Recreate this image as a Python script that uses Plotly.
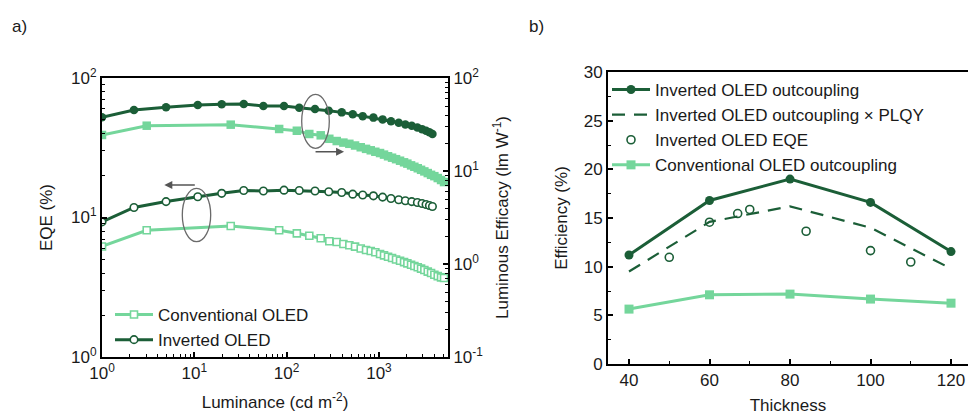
import plotly.graph_objects as go

DARK = "#1b5e37"
LIGHT = "#74d69b"
GREY = "#6a6a6a"
FONT = "Liberation Sans, Arial, sans-serif"

# ---------------- Panel a data ----------------
conv_lum = [1, 3.05, 24.8, 83, 129, 176, 234, 290, 349, 412, 478, 551, 635, 725, 815,
            914, 1028, 1135, 1255, 1387, 1532, 1693, 1871, 2032, 2228, 2419, 2633,
            2859, 3104, 3380, 3668, 3983, 4335, 4707, 5070]
conv_eqe = [6.2, 8.1, 8.7, 8.1, 7.7, 7.4, 7.1, 6.75, 6.67, 6.46, 6.32, 6.18, 6.0, 5.85,
            5.75, 5.63, 5.47, 5.35, 5.23, 5.12, 5.0, 4.9, 4.79, 4.69, 4.59, 4.49, 4.4,
            4.3, 4.2, 4.09, 4.0, 3.89, 3.8, 3.72, 3.68]
conv_le = [24.4, 30.7, 31.5, 28.3, 27.1, 25.0, 24.2, 22.2, 21.0, 20.2, 19.6, 18.8, 18.0,
           17.3, 16.7, 16.1, 15.6, 15.0, 14.4, 13.9, 13.4, 12.9, 12.4, 12.0, 11.5, 11.1,
           10.7, 10.3, 9.9, 9.5, 9.1, 8.8, 8.4, 8.0, 7.6]

inv_lum = [1, 2.22, 4.94, 10.9, 19.8, 34.3, 56, 93.7, 137, 203, 286, 395, 520, 667, 871,
           1096, 1350, 1637, 1932, 2265, 2608, 2931, 3238, 3520, 3796]
inv_eqe = [9.3, 11.8, 13.0, 14.1, 14.9, 15.6, 15.5, 15.7, 15.6, 15.5, 15.3, 15.1, 14.7,
           14.5, 14.3, 14.0, 13.7, 13.4, 13.2, 13.0, 12.8, 12.6, 12.4, 12.2, 12.0]
inv_le = [37.8, 45.3, 48.4, 51.3, 52.1, 52.5, 50.0, 50.0, 48.0, 46.5, 44.4, 42.7, 40.8,
          38.9, 37.5, 35.9, 34.3, 33.0, 31.7, 30.6, 29.4, 28.2, 27.1, 26.1, 25.0]

lum_ticks = [1, 10, 100, 1000]
lum_ticktext = ["10<sup>0</sup>", "10<sup>1</sup>", "10<sup>2</sup>", "10<sup>3</sup>"]
eqe_ticks = [1, 10, 100]
eqe_ticktext = ["10<sup>0</sup>", "10<sup>1</sup>", "10<sup>2</sup>"]
le_ticks = [0.1, 1, 10, 100]
le_ticktext = ["10<sup>-1</sup>", "10<sup>0</sup>", "10<sup>1</sup>", "10<sup>2</sup>"]

# ---------------- Panel b data ----------------
thickness = [40, 60, 80, 100, 120]
inv_outcoupling = [11.2, 16.8, 19.0, 16.6, 11.55]
inv_out_plqy = [9.5, 14.6, 16.2, 14.0, 9.8]
eqe_thickness = [50, 60, 67, 70, 84, 100, 110]
inv_eqe_b = [10.96, 14.57, 15.46, 15.88, 13.64, 11.65, 10.48]
conv_outcoupling = [5.64, 7.11, 7.18, 6.67, 6.25]

fig = go.Figure()

# Panel a traces
fig.add_trace(go.Scatter(x=conv_lum, y=conv_le, mode="lines+markers", xaxis="x", yaxis="y2",
                         line=dict(color=LIGHT, width=3),
                         marker=dict(symbol="square", size=8.5, color=LIGHT),
                         showlegend=False))
fig.add_trace(go.Scatter(x=inv_lum, y=inv_le, mode="lines+markers", xaxis="x", yaxis="y2",
                         line=dict(color=DARK, width=3),
                         marker=dict(symbol="circle", size=8.5, color=DARK),
                         showlegend=False))
fig.add_trace(go.Scatter(x=conv_lum, y=conv_eqe, mode="lines+markers", xaxis="x", yaxis="y",
                         name="Conventional OLED", legend="legend",
                         line=dict(color=LIGHT, width=3),
                         marker=dict(symbol="square", size=7, color="white",
                                     line=dict(color=LIGHT, width=1.6))))
fig.add_trace(go.Scatter(x=inv_lum, y=inv_eqe, mode="lines+markers", xaxis="x", yaxis="y",
                         name="Inverted OLED", legend="legend",
                         line=dict(color=DARK, width=3),
                         marker=dict(symbol="circle", size=7.5, color="white",
                                     line=dict(color=DARK, width=1.6))))

# Panel b traces
fig.add_trace(go.Scatter(x=thickness, y=inv_outcoupling, mode="lines+markers", xaxis="x2", yaxis="y3",
                         name="Inverted OLED outcoupling", legend="legend2",
                         line=dict(color=DARK, width=3),
                         marker=dict(symbol="circle", size=9, color=DARK)))
fig.add_trace(go.Scatter(x=thickness, y=inv_out_plqy, mode="lines", xaxis="x2", yaxis="y3",
                         name="Inverted OLED outcoupling \u00d7 PLQY", legend="legend2",
                         line=dict(color=DARK, width=2.2, dash="13px,9px")))
fig.add_trace(go.Scatter(x=eqe_thickness, y=inv_eqe_b, mode="markers", xaxis="x2", yaxis="y3",
                         name="Inverted OLED EQE", legend="legend2",
                         marker=dict(symbol="circle-open", size=8, color=DARK,
                                     line=dict(color=DARK, width=1.6))))
fig.add_trace(go.Scatter(x=thickness, y=conv_outcoupling, mode="lines+markers", xaxis="x2", yaxis="y3",
                         name="Conventional OLED outcoupling", legend="legend2",
                         line=dict(color=LIGHT, width=3),
                         marker=dict(symbol="square", size=9, color=LIGHT)))

W, H = 968, 415
def px(x):
    return x / W
def py(y):
    return (H - y) / H

axis_common = dict(showline=True, linecolor="black", linewidth=2, ticks="inside",
                   tickcolor="black", tickwidth=1.5, ticklen=5, showgrid=False, zeroline=False,
                   tickfont=dict(size=17, color="#1a1a1a", family=FONT),
                   automargin=False)

minor_log = dict(ticks="inside", ticklen=3, tickcolor="black", tickwidth=1, dtick="D1", showgrid=False)

fig.update_layout(
    width=W, height=H,
    margin=dict(l=0, r=0, t=0, b=0),
    paper_bgcolor="white", plot_bgcolor="white",
    font=dict(family=FONT, size=17, color="#1a1a1a"),
    xaxis=dict(axis_common, type="log", domain=[px(102), px(448)], range=[0, 3.748],
               anchor="y", mirror=True, tickvals=lum_ticks, ticktext=lum_ticktext,
               minor=minor_log,
               title=dict(text="Luminance (cd m<sup>-2</sup>)", font=dict(size=17), standoff=14)),
    yaxis=dict(axis_common, type="log", domain=[py(357), py(78)], range=[0, 2],
               anchor="x", tickvals=eqe_ticks, ticktext=eqe_ticktext, minor=minor_log,
               title=dict(text="EQE (%)", font=dict(size=17), standoff=14)),
    yaxis2=dict(axis_common, type="log", range=[-1, 2], overlaying="y", side="right",
                anchor="x", tickvals=le_ticks, ticktext=le_ticktext, minor=minor_log,
                title=dict(text="Luminous Efficacy (lm W<sup>-1</sup>)", font=dict(size=17), standoff=14)),
    xaxis2=dict(axis_common, domain=[px(608), 1.0], range=[34.78, 124.22], anchor="y3",
                mirror=True, tickvals=[40, 60, 80, 100, 120],
                minor=dict(ticks="inside", ticklen=3, tickcolor="black", tickwidth=1, dtick=10),
                title=dict(text="Thickness", font=dict(size=17), standoff=10)),
    yaxis3=dict(axis_common, domain=[py(364), py(72)], range=[0, 30], anchor="x2",
                tickvals=[0, 5, 10, 15, 20, 25, 30],
                minor=dict(ticks="inside", ticklen=3, tickcolor="black", tickwidth=1, dtick=2.5),
                title=dict(text="Efficiency (%)", font=dict(size=17), standoff=12)),
    legend=dict(x=px(110), y=py(297), xanchor="left", yanchor="top", bgcolor="rgba(0,0,0,0)",
                font=dict(size=17), tracegroupgap=0, itemwidth=38),
    legend2=dict(x=px(607), y=py(72), xanchor="left", yanchor="top", bgcolor="rgba(0,0,0,0)",
                 font=dict(size=17), tracegroupgap=0, itemwidth=38),
    shapes=[
        dict(type="circle", xref="paper", yref="paper", x0=px(301.7), x1=px(329.3),
             y0=py(148.3), y1=py(94.3), line=dict(color=GREY, width=1.3)),
        dict(type="circle", xref="paper", yref="paper", x0=px(182.3), x1=px(210.7),
             y0=py(241.7), y1=py(188.3), line=dict(color=GREY, width=1.3)),
    ],
    annotations=[
        dict(x=2.622, y=(357 - 151.7) / 139.5, xref="x", yref="y", ax=-30, ay=0,
             showarrow=True, arrowhead=2, arrowsize=1, arrowwidth=1.6, arrowcolor="#555", text=""),
        dict(x=0.675, y=(357 - 185) / 139.5, xref="x", yref="y", ax=32, ay=0,
             showarrow=True, arrowhead=2, arrowsize=1, arrowwidth=1.6, arrowcolor="#555", text=""),
        dict(x=px(10), y=py(26), xref="paper", yref="paper", xanchor="left", yanchor="middle",
             text="a)", showarrow=False, font=dict(size=17)),
        dict(x=px(527), y=py(26), xref="paper", yref="paper", xanchor="left", yanchor="middle",
             text="b)", showarrow=False, font=dict(size=17)),
    ],
)

fig.write_html("out.html")
